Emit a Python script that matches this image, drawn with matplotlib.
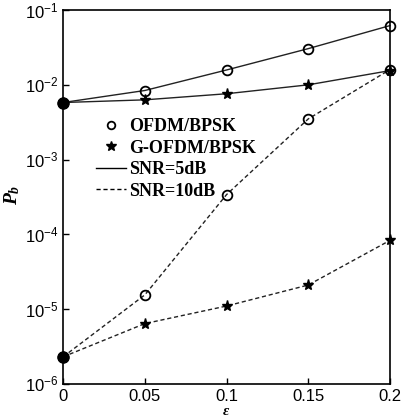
import matplotlib
matplotlib.use("Agg")
import matplotlib.pyplot as plt
from matplotlib.lines import Line2D

plt.rcParams['mathtext.fontset'] = 'custom'
plt.rcParams['mathtext.rm'] = 'Liberation Sans'
plt.rcParams['mathtext.it'] = 'Liberation Serif:italic:bold'
plt.rcParams['mathtext.bf'] = 'Liberation Sans:bold'

eps = [0, 0.05, 0.1, 0.15, 0.2]
ofdm_5 = [5.8e-3, 8.4e-3, 1.58e-2, 3.05e-2, 6.2e-2]
gofdm_5 = [5.8e-3, 6.3e-3, 7.6e-3, 1.0e-2, 1.55e-2]
ofdm_10 = [2.3e-6, 1.55e-5, 3.4e-4, 3.5e-3, 1.6e-2]
gofdm_10 = [2.3e-6, 6.4e-6, 1.1e-5, 2.1e-5, 8.3e-5]
xtick_labels = ['0', '0.05', '0.1', '0.15', '0.2']
ytick_vals = [1e-6, 1e-5, 1e-4, 1e-3, 1e-2, 1e-1]
ytick_labels = [r'$\mathrm{10^{-6}}$', r'$\mathrm{10^{-5}}$', r'$\mathrm{10^{-4}}$',
                r'$\mathrm{10^{-3}}$', r'$\mathrm{10^{-2}}$', r'$\mathrm{10^{-1}}$']

fig = plt.figure(figsize=(4.02, 4.2), dpi=100)
ax = fig.add_axes([0.157, 0.086, 0.813, 0.89])

lw = 1.0
col = '#222222'
ax.plot(eps, ofdm_5, '-', color=col, lw=lw, marker='o', mfc='none', mec='black', ms=7, mew=1.3, clip_on=False)
ax.plot(eps, gofdm_5, '-', color=col, lw=lw, marker='*', mfc='black', mec='black', ms=8, clip_on=False)
ax.plot(eps, ofdm_10, '--', color=col, lw=lw, dashes=(3, 2), marker='o', mfc='none', mec='black', ms=7, mew=1.3, clip_on=False)
ax.plot(eps, gofdm_10, '--', color=col, lw=lw, dashes=(3, 2), marker='*', mfc='black', mec='black', ms=8, clip_on=False)
# filled start points
ax.plot([eps[0]], [ofdm_5[0]], 'o', color='black', ms=8, clip_on=False)
ax.plot([eps[0]], [ofdm_10[0]], 'o', color='black', ms=8, clip_on=False)

ax.set_yscale('log')
ax.set_xlim(0, 0.2)
ax.set_ylim(1e-6, 1e-1)
ax.set_xticks(eps)
ax.set_xticklabels(xtick_labels, fontsize=12, family='Liberation Sans')
ax.minorticks_off()
ax.set_yticks(ytick_vals)
ax.set_yticklabels(ytick_labels, fontsize=12)
ax.tick_params(direction='in', length=4, width=1)
for s in ax.spines.values():
    s.set_linewidth(1.2)

ax.set_xlabel(r'$\varepsilon$', fontsize=11)
ax.xaxis.set_label_coords(0.5, -0.052)
ax.set_ylabel(r'$P_b$', fontsize=14)
ax.yaxis.set_label_coords(-0.125, 0.505)

handles = [
    Line2D([], [], ls='none', marker='o', mfc='none', mec='black', ms=5.5, mew=1.3),
    Line2D([], [], ls='none', marker='*', color='black', ms=7),
    Line2D([], [], ls='-', color='black', lw=1.0),
    Line2D([], [], ls='--', color='black', lw=1.0, dashes=(3, 2)),
]
labels = ['OFDM/BPSK', 'G-OFDM/BPSK', 'SNR=5dB', 'SNR=10dB']
ax.legend(handles, labels, loc='upper left', bbox_to_anchor=(0.08, 0.73), frameon=False,
          prop={'family': 'Liberation Serif', 'weight': 'bold', 'size': 13},
          handlelength=1.65, handletextpad=0.15, labelspacing=0.25, borderaxespad=0)

fig.savefig('out.png', dpi=100)
